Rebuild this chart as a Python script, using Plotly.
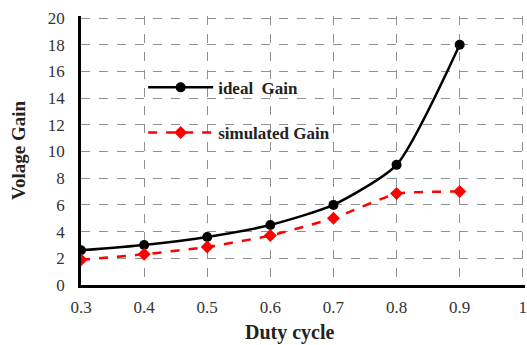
import plotly.graph_objects as go

duty = [0.3, 0.4, 0.5, 0.6, 0.7, 0.8, 0.9]
ideal_gain = [2.6, 3.0, 3.6, 4.5, 6.0, 9.0, 18.0]
simulated_gain = [1.9, 2.3, 2.85, 3.7, 5.0, 6.85, 7.0]

x_ticks = [0.3, 0.4, 0.5, 0.6, 0.7, 0.8, 0.9, 1.0]
x_tick_text = ["0.3", "0.4", "0.5", "0.6", "0.7", "0.8", "0.9", "1"]
y_ticks = list(range(0, 21, 2))

serif = "Liberation Serif, Times New Roman, serif"

fig = go.Figure()
fig.add_trace(go.Scatter(
    x=duty, y=ideal_gain, name="<b>ideal  Gain</b>",
    mode="lines+markers", line=dict(color="black", width=2.5, shape="spline", smoothing=0.6),
    marker=dict(symbol="circle", size=10, color="black"),
    legendgroup="a",
))
fig.add_trace(go.Scatter(
    x=duty, y=simulated_gain, name="<b>simulated Gain</b>",
    mode="lines+markers", line=dict(color="#ff0000", width=2.5, dash="dash", shape="spline", smoothing=0.4),
    marker=dict(symbol="diamond", size=10, color="#ff0000"),
    legendgroup="b",
))

grid = dict(showgrid=True, gridcolor="#909090", griddash="dash", gridwidth=1)
# ranges run a hair past the last tick so the outer gridlines stay visible
fig.update_xaxes(
    range=[0.3, 1.0035], tickvals=x_ticks, ticktext=x_tick_text,
    showline=True, linecolor="black", linewidth=2.5, zeroline=False,
    ticks="", ticklabelstandoff=5, ticklabeloverflow="allow",
    tickfont=dict(family=serif, size=17, color="#333"),
    **grid,
)
fig.update_yaxes(
    range=[0, 20.15], tickvals=y_ticks,
    showline=True, linecolor="black", linewidth=2.5, zeroline=False,
    ticks="", ticklabelstandoff=10, ticklabeloverflow="allow",
    tickfont=dict(family=serif, size=17, color="#333"),
    title=dict(text="<b>Volage Gain</b>", font=dict(family=serif, size=19, color="#222"), standoff=18),
    **grid,
)
fig.add_annotation(
    text="<b>Duty cycle</b>", xref="paper", yref="paper", x=(291 - 81) / 446, y=-0.175,
    xanchor="center", yanchor="middle", showarrow=False,
    font=dict(family=serif, size=20, color="#222"),
)
fig.update_layout(
    width=527, height=345,
    margin=dict(l=81, r=0, t=16, b=60),
    plot_bgcolor="white", paper_bgcolor="white",
    font=dict(family=serif, color="#222"),
    legend=dict(
        x=0.14, y=0.80, xanchor="left", yanchor="top",
        bgcolor="rgba(0,0,0,0)", itemwidth=65, tracegroupgap=20,
        font=dict(family=serif, size=17, color="#222"),
    ),
)
fig.write_html("out.html")
